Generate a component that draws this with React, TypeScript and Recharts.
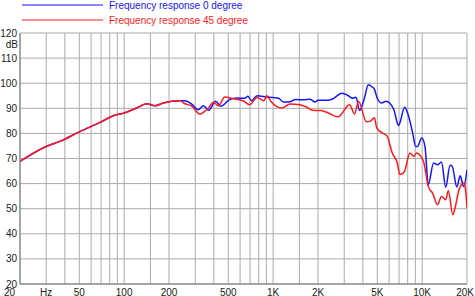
import { CartesianGrid, Legend, Line, LineChart, XAxis, YAxis } from "recharts";

// shared low-frequency part (both curves overlap here)
const baseFreq = [20, 30, 37, 50, 69, 88, 100, 121, 142, 161, 183, 237];
const baseDb = [68.9, 74.8, 76.8, 80.6, 84.4, 87.4, 88.1, 90.1, 91.8, 91.0, 92.1, 93.0];

const blueFreq = [
  256, 283, 314, 341, 369, 411, 445, 511, 572, 644, 678, 715, 781, 906, 1000, 1090, 1170, 1300, 1410, 1600, 1770,
  1910, 2000, 2330, 2520, 2885, 3160, 3400, 3600, 3800, 4100, 4350, 4620, 4770, 4990, 5350, 5720, 6050, 6450, 6950,
  7090, 7630, 7990, 8590, 9050, 9300, 9940, 10450, 10990, 11930, 12680, 13480, 14400, 15380, 15910, 17100, 17990,
  19000, 20000,
];
const blueDb = [
  93.0, 91.8, 89.4, 91.0, 89.2, 92.8, 90.8, 93.5, 94.1, 94.0, 94.8, 93.0, 95.0, 94.5, 94.3, 94.0, 92.5, 92.6, 93.5,
  93.4, 93.6, 92.5, 93.2, 93.2, 93.8, 96.0, 95.2, 94.0, 94.4, 89.1, 94.1, 99.4, 98.5, 97.7, 94.1, 92.1, 92.8, 92.1,
  89.5, 83.1, 84.2, 90.4, 88.1, 80.8, 74.8, 74.8, 78.2, 74.8, 59.6, 68.2, 67.5, 68.6, 58.5, 67.3, 66.9, 58.6, 63.1,
  58.8, 65.5,
];

const redFreq = [
  256, 283, 322, 345, 369, 397, 429, 474, 540, 630, 695, 781, 866, 906, 970, 1140, 1300, 1510, 1670, 1840, 2100, 2330,
  2720, 3260, 3520, 3740, 4230, 4500, 4780, 4960, 5400, 5800, 6300, 6800, 7090, 7630, 8270, 8800, 9180, 10200, 10990,
  11750, 12680, 13480, 14400, 14990, 16060, 16740, 17690, 19090, 19500, 20000,
];
const redDb = [
  91.8, 91.0, 87.7, 88.7, 90.1, 92.4, 91.0, 94.5, 93.8, 93.0, 91.4, 94.3, 93.0, 95.0, 92.6, 90.1, 91.7, 91.4, 90.5,
  89.2, 89.1, 88.2, 86.6, 91.4, 87.7, 92.8, 84.6, 84.9, 86.2, 82.2, 80.2, 79.1, 72.2, 68.3, 63.6, 65.0, 72.2, 70.8,
  72.2, 68.9, 58.9, 56.2, 51.6, 54.9, 53.6, 57.2, 47.6, 51.0, 57.6, 60.2, 58.2, 50.3,
];

const gridFreqs = [
  20, 30, 40, 50, 60, 70, 80, 90, 100, 150, 200, 300, 400, 500, 600, 700, 800, 900, 1000, 1500, 2000, 3000, 4000, 5000,
  6000, 7000, 8000, 9000, 10000, 20000,
];
const freqLabels: Record<number, string> = {
  20: "20", 30: "Hz", 50: "50", 100: "100", 200: "200", 500: "500",
  1000: "1K", 2000: "2K", 5000: "5K", 10000: "10K", 20000: "20K",
};
const dbTicks = [20, 30, 40, 50, 60, 70, 80, 90, 100, 110, 120];

const toPoints = (fs: number[], ds: number[]) => fs.map((f, i) => ({ f, db: ds[i] }));
const blueData = toPoints([...baseFreq, ...blueFreq], [...baseDb, ...blueDb]);
const redData = toPoints([...baseFreq, ...redFreq], [...baseDb, ...redDb]);

const font = "'Liberation Sans', Arial, sans-serif";

function FreqTick(props: any) {
  const { x, payload } = props;
  const label = freqLabels[payload.value];
  if (!label) return null;
  const first = payload.value === 20;
  const last = payload.value === 20000;
  return (
    <text
      x={first ? 4 : last ? 474 : x}
      y={295.5}
      textAnchor={first ? "start" : last ? "end" : "middle"}
      fontSize={10}
      fontFamily={font}
      fill="#222"
    >
      {label}
    </text>
  );
}

function DbTick(props: any) {
  const { y, payload } = props;
  return (
    <g>
      <text x={17} y={y + 3.5} textAnchor="end" fontSize={10} fontFamily={font} fill="#222">
        {payload.value}
      </text>
      {payload.value === 120 && (
        <text x={18} y={y + 15} textAnchor="end" fontSize={10} fontFamily={font} fill="#222">
          dB
        </text>
      )}
    </g>
  );
}

function LegendBox() {
  const items = [
    { name: "Frequency response 0 degree", color: "#1515ff" },
    { name: "Frequency response 45 degree", color: "#ff1a1a" },
  ];
  return (
    <svg width={300} height={28}>
      {items.map((it, i) => (
        <g key={it.name}>
          <line x1={22} x2={103} y1={5 + i * 15} y2={5 + i * 15} stroke={it.color} strokeWidth={1.2} />
          <text x={109} y={9 + i * 15} fontSize={10} fontFamily={font} fill={it.color}>
            {it.name}
          </text>
        </g>
      ))}
    </svg>
  );
}

export default function App() {
  return (
    <div style={{ position: "absolute", left: 0, top: 0, width: 475, height: 296, background: "#fff" }}>
      <LineChart width={475} height={296} margin={{ top: 33, right: 8, bottom: 0, left: 0 }}>
        <CartesianGrid stroke="#aaa" strokeWidth={1} />
        <XAxis
          dataKey="f"
          type="number"
          scale="log"
          domain={[20, 20000]}
          allowDataOverflow
          ticks={gridFreqs}
          interval={0}
          tick={<FreqTick />}
          tickLine={false}
          axisLine={{ stroke: "#777" }}
          height={12}
        />
        <YAxis
          type="number"
          domain={[20, 120]}
          ticks={dbTicks}
          interval={0}
          tick={<DbTick />}
          tickLine={false}
          axisLine={{ stroke: "#777" }}
          width={20}
        />
        <Legend
          verticalAlign="middle"
          layout="horizontal"
          content={() => <LegendBox />}
          wrapperStyle={{ position: "absolute", top: 0, left: 0, width: 300 }}
        />
        <Line data={blueData} dataKey="db" stroke="#1515ff" strokeWidth={1.5} dot={false} isAnimationActive={false} type="monotone" />
        <Line data={redData} dataKey="db" stroke="#ff1a1a" strokeWidth={1.5} dot={false} isAnimationActive={false} type="monotone" />
      </LineChart>
    </div>
  );
}
